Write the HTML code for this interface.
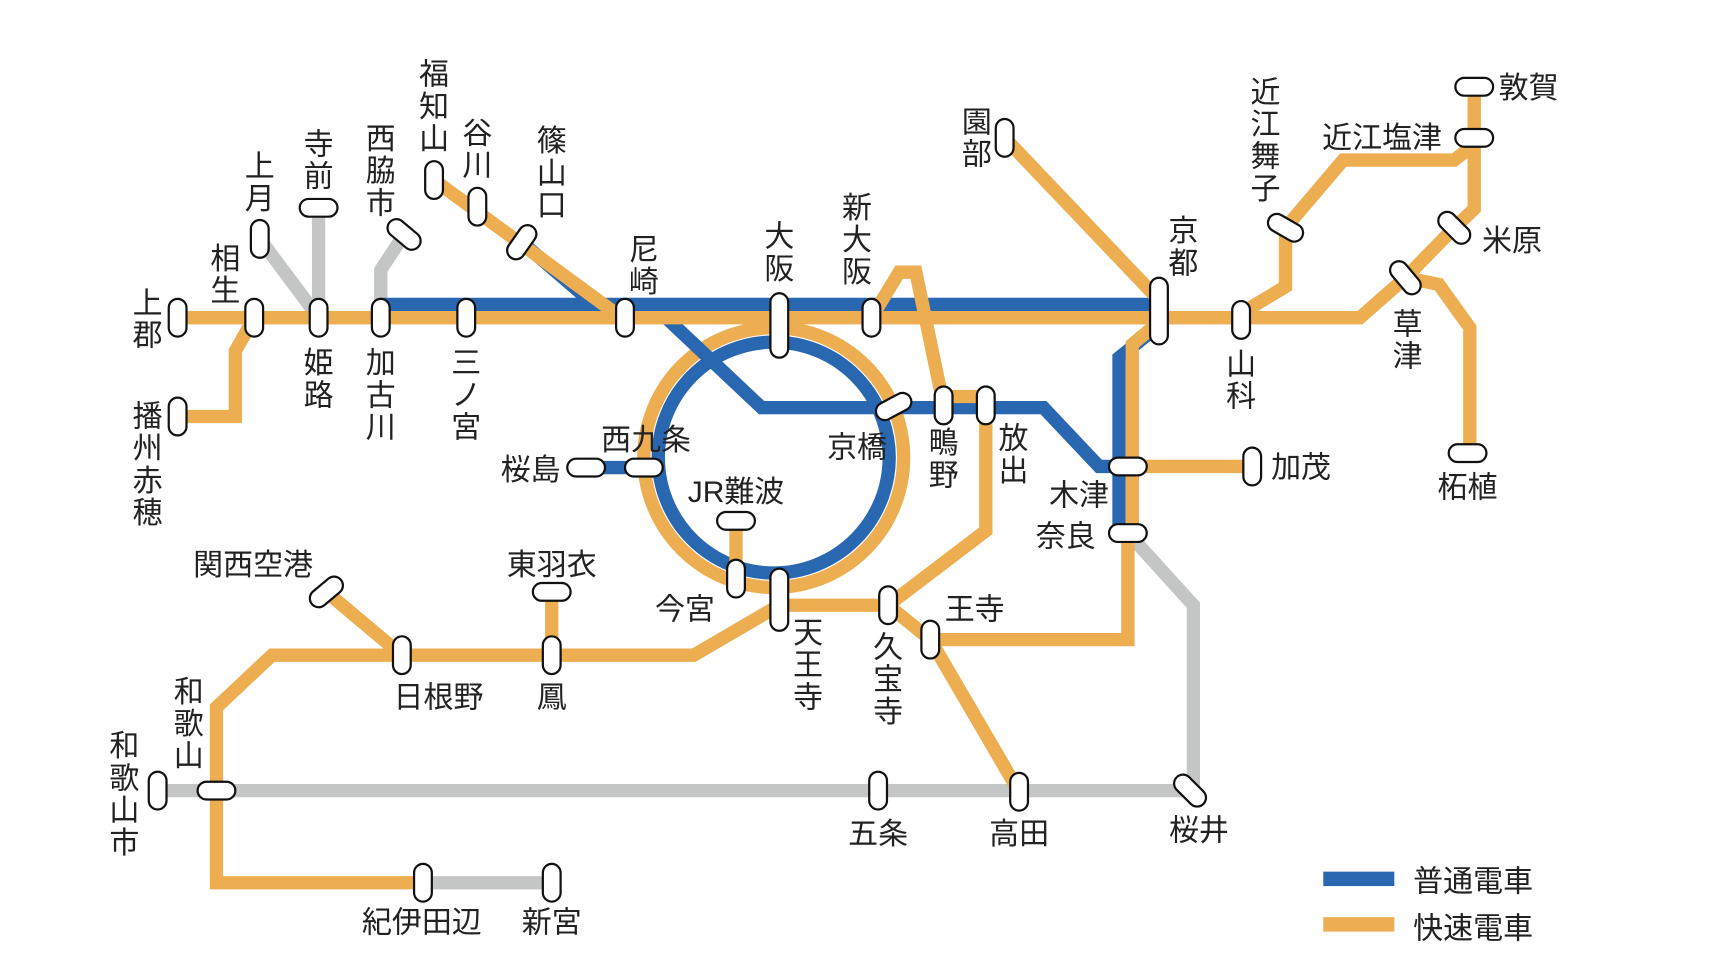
<!DOCTYPE html>
<html><head><meta charset="utf-8"><style>
html,body{margin:0;padding:0;background:#fff;}
svg{display:block;}
text{font-family:"Liberation Sans","Noto Sans CJK JP",sans-serif;font-size:27px;fill:#222;}
.v text{text-anchor:middle;}
.h{text-anchor:middle;}
.o{stroke:#ecae50;stroke-width:12;fill:none;stroke-linejoin:miter;}
.b{stroke:#2a67b1;stroke-width:12;fill:none;}
.g{stroke:#c4c5c5;stroke-width:12;fill:none;}
.st{fill:#fff;stroke:#111;stroke-width:2;}
</style></head><body>
<svg width="1734" height="974" viewBox="0 0 1562 877" xmlns="http://www.w3.org/2000/svg">
<!-- gray lines -->
<path class="g" d="M234 215 L287 286 M287 187 L287 286 M364 211 L343 243 L343 286"/>
<path class="g" d="M142 712 L1072 712"/>
<path class="g" d="M1016 480 L1075 545 L1075 712"/>
<path class="g" d="M381 795 L497 795"/>
<!-- loop -->
<circle cx="697" cy="412" r="117" class="o"/>
<circle cx="697" cy="412" r="104" class="b"/>
<!-- blue lines -->
<path class="b" d="M343 274 L1044 274"/>
<path class="b" d="M470 218 L535 274"/>
<path class="b" d="M600 286 L686 367 L940 367 L990 420 L1008 420"/>
<path class="b" d="M1044 293 L1008 322 L1008 480"/>
<path class="b" d="M528 421 L580 421"/>
<!-- orange lines -->
<path class="o" d="M160 286 L1225 286 L1266 250 L1310 205 L1328 188 L1328 78"/>
<path class="o" d="M229 286 L212 316 L212 375 L160 375"/>
<path class="o" d="M391 162 L560 286"/>
<path class="o" d="M785 286 L810 245 L825 245 L850 365"/>
<path class="o" d="M850 357 L888 357 L888 478 L800 545"/>
<path class="o" d="M663 469 L663 521"/>
<path class="o" d="M702 545 L800 545 L838 576 L918 713"/>
<path class="o" d="M838 576 L1016 576 L1016 480"/>
<path class="o" d="M1044 290 L1020 310 L1020 480"/>
<path class="o" d="M1016 420 L1128 420"/>
<path class="o" d="M905 124 L1044 270"/>
<path class="o" d="M1118 282 L1158 258 L1158 205 L1210 144 L1310 144 L1328 130"/>
<path class="o" d="M1266 250 L1296 256 L1324 295 L1324 408"/>
<path class="o" d="M702 545 L625 590 L245 590 L195 637 L195 795 L381 795"/>
<path class="o" d="M294 533 L362 590"/>
<path class="o" d="M497 533 L497 590"/>
<!-- stations -->
<g class="st">
<rect x="152" y="269" width="16" height="34" rx="8"/>
<rect x="221" y="269" width="16" height="34" rx="8"/>
<rect x="152" y="358" width="16" height="34" rx="8"/>
<rect x="226" y="198" width="16" height="34" rx="8"/>
<rect x="270" y="179" width="34" height="16" rx="8"/>
<rect x="279" y="269" width="16" height="34" rx="8"/>
<rect x="347" y="203" width="34" height="16" rx="8" transform="rotate(40 364 211)"/>
<rect x="335" y="269" width="16" height="34" rx="8"/>
<rect x="412" y="269" width="16" height="34" rx="8"/>
<rect x="383" y="145" width="16" height="34" rx="8"/>
<rect x="422" y="169" width="16" height="34" rx="8"/>
<rect x="462" y="201" width="16" height="34" rx="8" transform="rotate(35 470 218)"/>
<rect x="555" y="269" width="16" height="34" rx="8"/>
<rect x="694" y="264" width="16" height="58" rx="8"/>
<rect x="777" y="269" width="16" height="34" rx="8"/>
<rect x="788" y="358" width="34" height="16" rx="8" transform="rotate(-28 805 366)"/>
<rect x="842" y="348" width="16" height="34" rx="8"/>
<rect x="880" y="348" width="16" height="34" rx="8"/>
<rect x="1036" y="250" width="16" height="60" rx="8"/>
<rect x="897" y="107" width="16" height="34" rx="8"/>
<rect x="1110" y="271" width="16" height="34" rx="8"/>
<rect x="1141" y="197" width="34" height="16" rx="8" transform="rotate(30 1158 205)"/>
<rect x="1311" y="116" width="34" height="16" rx="8"/>
<rect x="1311" y="70" width="34" height="16" rx="8"/>
<rect x="1293" y="197" width="34" height="16" rx="8" transform="rotate(45 1310 205)"/>
<rect x="1249" y="242" width="34" height="16" rx="8" transform="rotate(50 1266 250)"/>
<rect x="1305" y="400" width="34" height="16" rx="8"/>
<rect x="511" y="413" width="34" height="16" rx="8"/>
<rect x="563" y="413" width="34" height="16" rx="8"/>
<rect x="646" y="461" width="34" height="16" rx="8"/>
<rect x="655" y="504" width="16" height="34" rx="8"/>
<rect x="694" y="512" width="16" height="56" rx="8"/>
<rect x="792" y="528" width="16" height="34" rx="8"/>
<rect x="830" y="559" width="16" height="34" rx="8"/>
<rect x="999" y="412" width="34" height="16" rx="8"/>
<rect x="999" y="472" width="34" height="16" rx="8"/>
<rect x="1120" y="403" width="16" height="34" rx="8"/>
<rect x="1055" y="704" width="34" height="16" rx="8" transform="rotate(45 1072 712)"/>
<rect x="134" y="695" width="16" height="34" rx="8"/>
<rect x="178" y="704" width="34" height="16" rx="8"/>
<rect x="783" y="695" width="16" height="34" rx="8"/>
<rect x="910" y="696" width="16" height="34" rx="8"/>
<rect x="277" y="525" width="34" height="16" rx="8" transform="rotate(-40 294 533)"/>
<rect x="354" y="573" width="16" height="34" rx="8"/>
<rect x="480" y="525" width="34" height="16" rx="8"/>
<rect x="489" y="573" width="16" height="34" rx="8"/>
<rect x="373" y="778" width="16" height="34" rx="8"/>
<rect x="489" y="778" width="16" height="34" rx="8"/>
</g>
<!-- vertical labels -->
<g class="v">
<text x="133" y="282">上</text><text x="133" y="311">郡</text>
<text x="203" y="242">相</text><text x="203" y="271">生</text>
<text x="133" y="384">播</text><text x="133" y="413">州</text><text x="133" y="442">赤</text><text x="133" y="471">穂</text>
<text x="234" y="159">上</text><text x="234" y="188">月</text>
<text x="287" y="139">寺</text><text x="287" y="168">前</text>
<text x="343" y="134">西</text><text x="343" y="163">脇</text><text x="343" y="192">市</text>
<text x="287" y="336">姫</text><text x="287" y="365">路</text>
<text x="343" y="336">加</text><text x="343" y="365">古</text><text x="343" y="394">川</text>
<text x="420" y="336">三</text><text x="420" y="365">ノ</text><text x="420" y="394">宮</text>
<text x="391" y="76">福</text><text x="391" y="105">知</text><text x="391" y="134">山</text>
<text x="430" y="129">谷</text><text x="430" y="158">川</text>
<text x="497" y="136">篠</text><text x="497" y="165">山</text><text x="497" y="194">口</text>
<text x="580" y="234">尼</text><text x="580" y="263">崎</text>
<text x="702" y="222">大</text><text x="702" y="251">阪</text>
<text x="772" y="196">新</text><text x="772" y="225">大</text><text x="772" y="254">阪</text>
<text x="850" y="408">鴫</text><text x="850" y="437">野</text>
<text x="913" y="404">放</text><text x="913" y="433">出</text>
<text x="1066" y="217">京</text><text x="1066" y="246">都</text>
<text x="880" y="119">園</text><text x="880" y="148">部</text>
<text x="1118" y="337">山</text><text x="1118" y="366">科</text>
<text x="1140" y="92">近</text><text x="1140" y="121">江</text><text x="1140" y="150">舞</text><text x="1140" y="179">子</text>
<text x="1268" y="301">草</text><text x="1268" y="330">津</text>
<text x="728" y="579">天</text><text x="728" y="608">王</text><text x="728" y="637">寺</text>
<text x="800" y="592">久</text><text x="800" y="621">宝</text><text x="800" y="650">寺</text>
<text x="170" y="632">和</text><text x="170" y="661">歌</text><text x="170" y="690">山</text>
<text x="112" y="681">和</text><text x="112" y="710">歌</text><text x="112" y="739">山</text><text x="112" y="768">市</text>
</g>
<!-- horizontal labels -->
<g class="h">
<text class="h" x="478" y="432">桜島</text>
<text class="h" x="582" y="405">西九条</text>
<text class="h" x="663" y="452">JR難波</text>
<text class="h" x="772" y="412">京橋</text>
<text class="h" x="617" y="558">今宮</text>
<text class="h" x="878" y="558">王寺</text>
<text class="h" x="972" y="455">木津</text>
<text class="h" x="960" y="492">奈良</text>
<text class="h" x="1172" y="430">加茂</text>
<text class="h" x="1322" y="448">柘植</text>
<text class="h" x="1362" y="226">米原</text>
<text class="h" x="1245" y="133">近江塩津</text>
<text class="h" x="1377" y="88">敦賀</text>
<text class="h" x="228" y="518">関西空港</text>
<text class="h" x="497" y="518">東羽衣</text>
<text class="h" x="395" y="637">日根野</text>
<text class="h" x="497" y="637">鳳</text>
<text class="h" x="791" y="760">五条</text>
<text class="h" x="918" y="760">高田</text>
<text class="h" x="1080" y="757">桜井</text>
<text class="h" x="380" y="840">紀伊田辺</text>
<text class="h" x="497" y="840">新宮</text>
</g>
<!-- legend -->
<rect x="1192" y="785" width="64" height="13" fill="#2a67b1"/>
<rect x="1192" y="826" width="64" height="13" fill="#ecae50"/>
<text x="1273" y="803">普通電車</text>
<text x="1273" y="845">快速電車</text>
</svg>
</body></html>
